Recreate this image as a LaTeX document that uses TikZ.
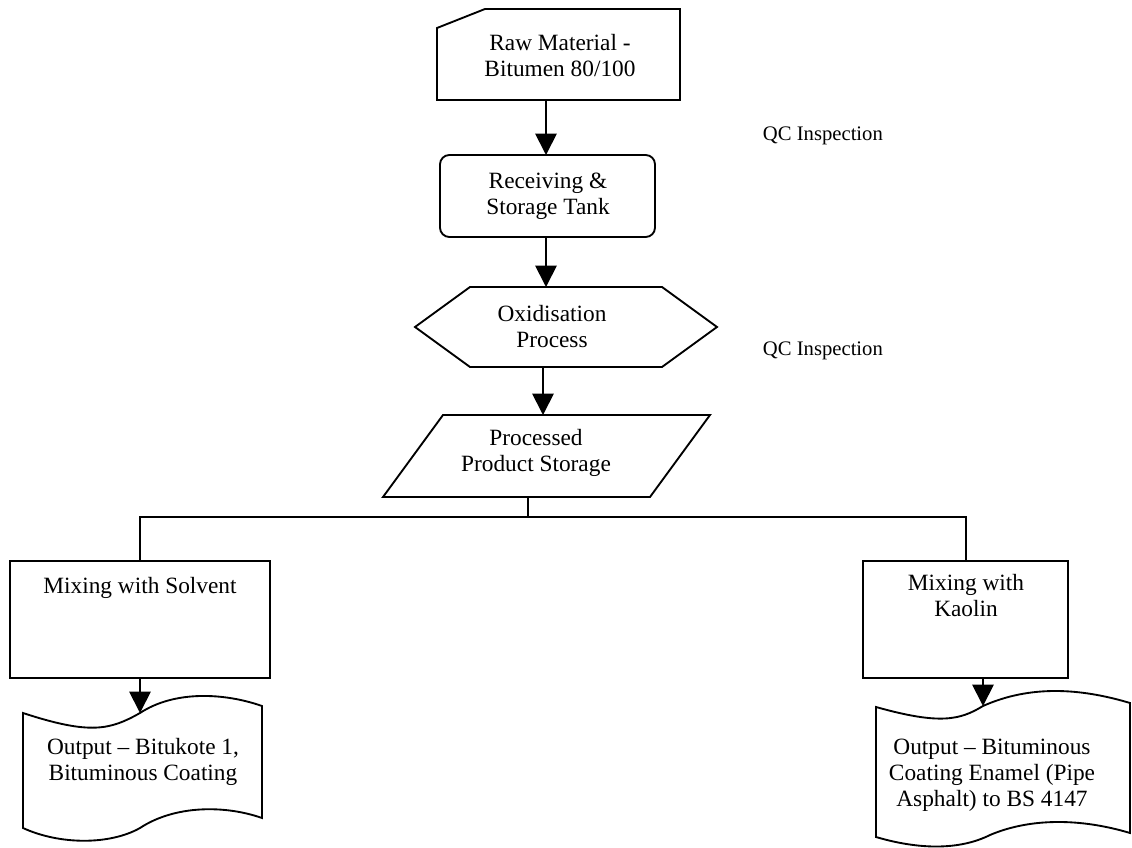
\documentclass[tikz,border=0pt]{standalone}
\usepackage{fontspec}
\setmainfont{Liberation Serif}
\usetikzlibrary{arrows.meta}
\begin{document}
\begin{tikzpicture}[x=0.75pt,y=-0.75pt,
  line width=1.4pt, line join=miter,
  txt/.style={align=center, font=\fontsize{17.5}{19.5}\selectfont, inner sep=0pt},
  qc/.style={font=\fontsize{15.5}{18}\selectfont, inner sep=0pt},
  arr/.style={-{Triangle[length=16pt,width=16pt]}},
  ln/.style={line width=1.2pt}]
\useasboundingbox (0,0) rectangle (1132,848);
% Raw material (card)
\draw (437,28) -- (485,9) -- (680,9) -- (680,100) -- (437,100) -- cycle;
\node[txt] (raw) at (560,56) {Raw Material -\\Bitumen 80/100};
\coordinate (rawB) at (546,100);
% Receiving
\draw[rounded corners=7pt] (440,155) rectangle (655,237);
\node[txt] (rec) at (548,196) {Receiving \&\\Storage Tank};
\coordinate (recT) at (546,155);
\coordinate (recB) at (546,237);
% Oxidisation hexagon
\draw (415,327) -- (470,287) -- (662,287) -- (717,327) -- (662,367) -- (470,367) -- cycle;
\node[txt] (oxi) at (552,327) {Oxidisation\\Process};
\coordinate (oxiT) at (546,287);
\coordinate (oxiB) at (543,367);
% Processed product storage parallelogram
\draw (443,415) -- (710,415) -- (650,497) -- (383,497) -- cycle;
\node[txt] (pps) at (536,453) {Processed\\Product Storage};
\coordinate (ppsT) at (543,415);
\coordinate (ppsB) at (528,497);
% QC labels
\node[qc, anchor=west] (qc1) at (762,136) {QC Inspection};
\node[qc, anchor=west] (qc2) at (762,351) {QC Inspection};
% Mixing boxes
\draw (10,561) rectangle (270,678);
\node[txt] (mixS) at (140,588) {Mixing with Solvent};
\coordinate (mixST) at (140,561);
\coordinate (mixSB) at (140,678);
\draw (863,561) rectangle (1068,678);
\node[txt] (mixK) at (966,596) {Mixing with\\Kaolin};
\coordinate (mixKT) at (966,561);
\coordinate (mixKB) at (983,678);
% Documents
\draw (23,713) .. controls (90,735) and (110,730) .. (140,713)
  .. controls (175,690) and (225,693) .. (262,706) -- (262,818)
  .. controls (225,805) and (175,805) .. (140,828)
  .. controls (110,845) and (60,845) .. (23,828) -- cycle;
\node[txt] (outL) at (143,762) {Output -- Bitukote 1,\\Bituminous Coating};
\coordinate (outLT) at (140,713);
\draw (876,707) .. controls (940,725) and (960,720) .. (983,706)
  .. controls (1030,685) and (1080,688) .. (1130,703) -- (1130,833)
  .. controls (1080,818) and (1030,818) .. (990,835)
  .. controls (960,850) and (920,850) .. (876,837) -- cycle;
\node[txt] (outR) at (992,775) {Output -- Bituminous\\Coating Enamel (Pipe\\Asphalt) to BS 4147};
\coordinate (outRT) at (983,706);
% Connectors
\draw[arr] (rawB) -- (recT);
\draw[arr] (recB) -- (oxiT);
\draw[arr] (oxiB) -- (ppsT);
\coordinate (jn) at (528,517);
\draw[ln] (ppsB) -- (jn);
\draw[ln] (mixST) |- (jn) -| (mixKT);
\draw[arr] (mixSB) -- (outLT);
\draw[arr] (mixKB) -- (outRT);
\end{tikzpicture}
\end{document}
